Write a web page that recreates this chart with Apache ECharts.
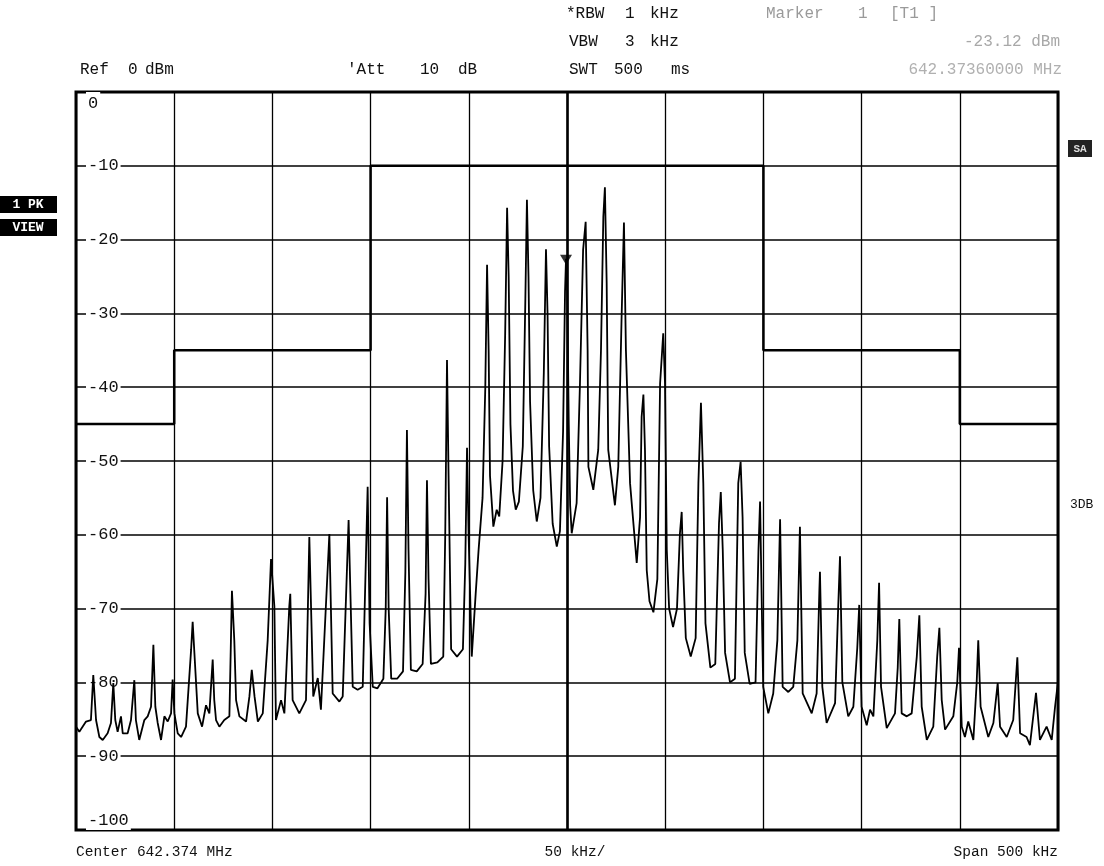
<!DOCTYPE html>
<html>
<head>
<meta charset="utf-8">
<script src="https://cdn.jsdelivr.net/npm/echarts@6/dist/echarts.min.js"></script>
<style>
html,body{margin:0;padding:0;background:#fff;}
#chart{width:1104px;height:866px;}
</style>
</head>
<body>
<div id="chart"></div>
<script>
// Frequency offset from centre (kHz) and level (dBm)
const trace = [
[-250,-86.0],[-248.3,-86.7],[-244.9,-85.3],[-242.4,-85.1],[-241.2,-79.0],[-239.8,-85.1],[-238.1,-87.4],[-236.4,-87.8],
[-233.9,-86.9],[-232.2,-85.5],[-231,-80.1],[-230,-85.1],[-228.8,-86.7],[-227.1,-84.6],[-226.2,-86.9],[-223.7,-86.9],
[-222,-85.1],[-220.3,-79.7],[-219.5,-85.1],[-217.8,-87.8],[-215.2,-85.1],[-213.5,-84.6],[-211.8,-83.3],[-210.6,-74.9],
[-209.6,-83.3],[-208.4,-85.5],[-206.7,-87.8],[-205,-84.6],[-203.3,-85.3],[-201.6,-84.2],[-200.8,-79.6],[-199.9,-84.2],
[-198.2,-86.9],[-196.5,-87.4],[-194,-86.0],[-191.4,-75.6],[-190.6,-71.8],[-189.8,-75.6],[-188,-84.2],[-185.8,-86.0],
[-183.8,-83.1],[-182.1,-84.2],[-180.4,-76.9],[-179.6,-82.4],[-178.7,-85.1],[-177,-86.0],[-174.5,-85.1],[-171.9,-84.6],
[-170.6,-67.6],[-169.4,-74.3],[-168.5,-82.4],[-166.8,-84.6],[-163.4,-85.3],[-161.7,-81.9],[-160.5,-78.3],[-159.1,-81.9],
[-157.4,-85.3],[-154.9,-84.2],[-152.4,-74.3],[-150.7,-63.3],[-149,-69.7],[-148.2,-85.1],[-145.6,-82.4],[-143.9,-84.2],
[-141.4,-69.7],[-140.9,-68.0],[-139.7,-82.4],[-136.3,-84.2],[-132.9,-82.4],[-131.2,-60.3],[-129.2,-81.9],[-126.9,-79.4],
[-125.3,-83.7],[-121,-59.9],[-119.3,-81.5],[-115.9,-82.6],[-114.2,-81.9],[-111.2,-58],[-109.1,-80.6],[-106.6,-81.0],
[-104,-80.6],[-101.5,-53.5],[-100.5,-72],[-98.9,-80.6],[-96.5,-80.8],[-93.5,-79.5],[-92.3,-70],[-91.6,-54.9],
[-90.8,-70],[-89.5,-79.5],[-86.5,-79.5],[-83.5,-78.5],[-82.3,-65],[-81.5,-45.8],[-80.7,-62],[-79.5,-78.3],
[-76.5,-78.5],[-73.5,-77.5],[-72,-68],[-71.3,-52.6],[-70.5,-66],[-69.3,-77.5],[-66,-77.3],[-63,-76.5],
[-62,-60],[-61.1,-36.3],[-60.3,-52],[-59,-75.5],[-56,-76.5],[-53,-75.5],[-51.8,-64],[-50.9,-48.2],
[-50.1,-60],[-48.5,-76.5],[-46.5,-68],[-45,-62],[-43,-55],[-41.6,-40],[-40.7,-23.4],[-39.9,-35],
[-39.2,-52],[-37.5,-58.9],[-35.8,-56.6],[-34.5,-57.5],[-32.8,-50],[-31.5,-33],[-30.5,-15.7],[-29.7,-25],
[-28.8,-45],[-27.5,-54],[-26.1,-56.6],[-24.5,-55.5],[-22.5,-48],[-21.2,-28],[-20.4,-14.6],[-19.6,-25],
[-18.8,-42],[-17.2,-54],[-15.4,-58.2],[-13.5,-55],[-11.8,-38],[-10.7,-21.3],[-9.9,-30],[-9.1,-48],
[-7.3,-58.5],[-5.2,-61.6],[-3.6,-59.5],[-2,-46],[-1,-27],[-0.5,-22.6],[0.1,-27],[0.9,-45],
[1.6,-56],[2.4,-59.8],[4.9,-55.7],[6.6,-39.5],[8.2,-21.4],[9.5,-17.6],[10.5,-35],[10.9,-50.8],
[13.4,-53.9],[15.9,-48.5],[17.3,-35],[18.5,-16.9],[19.3,-12.9],[20.2,-25.9],[21,-48.5],[24.4,-56],
[26.1,-50.8],[27.8,-30.5],[29,-17.7],[30,-35],[32.1,-53],[35.5,-63.8],[37.2,-57.6],[38,-44],
[38.9,-41],[39.7,-48.5],[40.6,-64.8],[42,-69],[44,-70.5],[46,-66],[47.4,-39.5],[49,-32.7],
[49.9,-39.5],[50.8,-62],[52,-70],[54,-72.5],[56,-70],[57.5,-59.8],[58.4,-56.9],[59.2,-65],
[60.5,-74],[63,-76.5],[65.5,-74],[66.9,-53],[68.2,-42.1],[69.4,-53],[70.5,-72],[73,-78],
[75.5,-77.5],[77.4,-58.4],[78.3,-54.2],[79.3,-62],[80.5,-76],[83,-80],[85.5,-79.5],[87.2,-53],
[88.4,-50.1],[89.4,-57.6],[90.5,-76],[93,-80.2],[96,-80],[97.5,-62],[98.3,-55.5],[99.2,-70],
[99.9,-80.6],[102.5,-84.2],[105,-81.5],[107.1,-74.3],[108.5,-57.9],[109.8,-80.6],[112.7,-81.3],[115.2,-80.6],
[117.3,-74.3],[118.6,-58.9],[120,-81.5],[124.6,-84.2],[127.1,-81.5],[128.5,-67.5],[128.8,-65],[130,-80.6],
[132.2,-85.5],[136.5,-82.8],[138.1,-69.7],[139,-62.9],[140.2,-80],[143.2,-84.6],[145.8,-83.3],[147.8,-75.3],
[148.8,-69.5],[150,-83.3],[152.6,-85.8],[154.3,-83.7],[156,-84.6],[158,-74.3],[158.9,-66.5],[159.9,-80.6],
[162.8,-86.2],[167,-84.2],[168.4,-78],[169.2,-71.4],[170.4,-84.2],[173,-84.6],[175.5,-84.2],[178.1,-76.5],
[179.4,-70.9],[180.6,-83.3],[183.2,-87.8],[186.5,-86],[188.5,-76.5],[189.6,-72.6],[190.8,-82.4],[192.5,-86.4],
[196.7,-84.6],[198.7,-80],[199.6,-75.3],[201,-86],[202.6,-87.4],[204.3,-85.3],[206.9,-87.8],[208.6,-80],
[209.4,-74.3],[210.6,-83.3],[214.5,-87.4],[217.1,-85.5],[219.3,-80.1],[220.5,-86],[223.9,-87.4],[227.2,-85.1],
[229.3,-76.6],[230.7,-86.9],[234,-87.4],[235.7,-88.5],[238.8,-81.4],[240.8,-87.8],[244.2,-86],[246.8,-87.8],
[248.5,-83.3],[250,-79.9]
];

// Limit line (mask)
const maskKHz = [-250,-200,-200,-100,-100,100,100,200,200,250];
const maskDBm = [-45,-45,-35,-35,-10,-10,-35,-35,-45,-45];

// Marker 1
const markerKHz = [-0.5];
const markerDBm = [-23.12];

// Axis ranges / ticks
const xMin = -250, xMax = 250, xStep = 50;
const yMin = -100, yMax = 0, yStep = 10;

// Header / footer annotation tokens (text only)
const headerRows = [
  ['*RBW', '1', 'kHz'],
  ['VBW', '3', 'kHz'],
  ['SWT', '500', 'ms'],
  ['Ref', '0', 'dBm'],
  ["'Att", '10', 'dB'],
  ['Marker', '1', '[T1 ]']
];
const markerReadout = ['-23.12 dBm', '642.37360000 MHz'];
const footerTexts = ['Center 642.374 MHz', '50 kHz/', 'Span 500 kHz'];
const sideTexts = ['1 PK', 'VIEW', '3DB', 'SA'];

const FONT = '"Liberation Mono", "DejaVu Sans Mono", monospace';
const chart = echarts.init(document.getElementById('chart'), null, {renderer: 'canvas'});

function txt(x, y, text, style) {
  return {
    type: 'text', x: x, y: y, silent: true,
    style: Object.assign({text: text, fill: '#111', font: '16px ' + FONT, textVerticalAlign: 'middle'}, style || {})
  };
}
// token layout positions (pixels)
const rowPos = [
  {y: 14, xs: [566, 625, 650]},
  {y: 42, xs: [569, 625, 650]},
  {y: 70, xs: [569, 614, 671]},
  {y: 70, xs: [80, 128, 145]},
  {y: 70, xs: [347, 420, 458]},
  {y: 14, xs: [766, 858, 890], fill: '#9a9a9a'}
];
const graphics = [];
headerRows.forEach((row, r) => {
  row.forEach((t, i) => graphics.push(txt(rowPos[r].xs[i], rowPos[r].y, t, rowPos[r].fill ? {fill: rowPos[r].fill} : null)));
});
graphics.push(txt(1060, 42, markerReadout[0], {fill: '#a8a8a8', textAlign: 'right'}));
graphics.push(txt(1062, 70, markerReadout[1], {fill: '#b0b0b0', textAlign: 'right'}));
const footFont = {font: '14.5px ' + FONT};
graphics.push(txt(76, 852, footerTexts[0], footFont));
graphics.push(txt(575, 852, footerTexts[1], Object.assign({textAlign: 'center'}, footFont)));
graphics.push(txt(1058, 852, footerTexts[2], Object.assign({textAlign: 'right'}, footFont)));
graphics.push({type: 'rect', shape: {x: 0, y: 196, width: 57, height: 17}, style: {fill: '#000'}, silent: true});
graphics.push(txt(28, 205, sideTexts[0], {fill: '#fff', font: 'bold 13px ' + FONT, textAlign: 'center'}));
graphics.push({type: 'rect', shape: {x: 0, y: 219, width: 57, height: 17}, style: {fill: '#000'}, silent: true});
graphics.push(txt(28, 228, sideTexts[1], {fill: '#fff', font: 'bold 13px ' + FONT, textAlign: 'center'}));
graphics.push(txt(1070, 505, sideTexts[2], {font: '13px ' + FONT}));
graphics.push({type: 'rect', shape: {x: 1068, y: 140, width: 24, height: 17}, style: {fill: '#222'}, silent: true});
graphics.push(txt(1080, 149, sideTexts[3], {fill: '#ddd', font: 'bold 11px ' + FONT, textAlign: 'center'}));

const option = {
  animation: false,
  backgroundColor: '#fff',
  grid: {left: 76, top: 92, right: 46, bottom: 36, show: true, borderColor: '#000', borderWidth: 3, backgroundColor: 'transparent', containLabel: false},
  xAxis: {
    type: 'value', min: xMin, max: xMax, interval: xStep,
    axisLine: {show: false}, axisTick: {show: false}, axisLabel: {show: false},
    splitLine: {show: true, lineStyle: {color: '#000', width: 1.3}}
  },
  yAxis: {
    type: 'value', min: yMin, max: yMax, interval: yStep,
    axisLine: {show: false}, axisTick: {show: false},
    axisLabel: {
      show: true, inside: true, margin: 10, color: '#111',
      fontFamily: FONT, fontSize: 17,
      backgroundColor: '#fff', padding: [3, 2, 1, 2],
      verticalAlignMaxLabel: 'top', verticalAlignMinLabel: 'bottom',
      formatter: function (v) { return String(v); }
    },
    splitLine: {show: true, lineStyle: {color: '#000', width: 1.6}}
  },
  series: [
    {
      type: 'line', name: 'limit', data: maskKHz.map((k, i) => [k, maskDBm[i]]),
      symbol: 'none', lineStyle: {color: '#000', width: 2.5}, silent: true, z: 3
    },
    {
      type: 'line', name: 'trace', data: trace,
      symbol: 'none', lineStyle: {color: '#000', width: 1.8}, silent: true, z: 4,
      markLine: {
        silent: true, symbol: 'none', label: {show: false},
        lineStyle: {color: '#000', width: 2.6, type: 'solid'},
        data: [{xAxis: 0}]
      }
    },
    {
      type: 'scatter', name: 'marker', data: markerKHz.map((k, i) => [k, markerDBm[i]]),
      symbol: 'triangle', symbolRotate: 180, symbolSize: [12, 10], symbolOffset: [0, -3],
      itemStyle: {color: '#000'}, silent: true, z: 5
    }
  ],
  graphic: graphics
};
chart.setOption(option);
</script>
</body>
</html>
